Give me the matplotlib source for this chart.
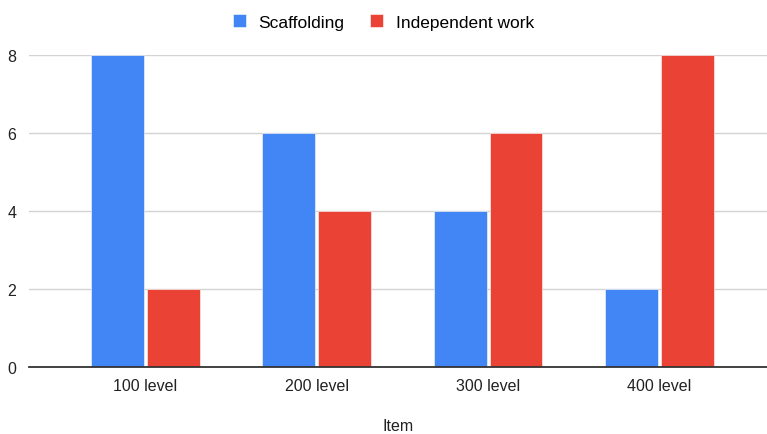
import numpy as np
import matplotlib.pyplot as plt

categories = ["100 level", "200 level", "300 level", "400 level"]
scaffolding = [8, 6, 4, 2]
independent = [2, 4, 6, 8]
yticks = [0, 2, 4, 6, 8]

blue = "#4285F4"
red = "#EA4335"

plt.rcParams['font.family'] = ['Liberation Sans', 'DejaVu Sans']

fig = plt.figure(figsize=(7.67, 4.35), dpi=100)
ax = fig.add_axes([0.0378, 0.154, 0.9622, 0.717])

x = np.arange(len(categories))
width = 0.309
offset = 0.163
ax.bar(x - offset, scaffolding, width, color=blue, label="Scaffolding",
       edgecolor="white", linewidth=0.4, zorder=3)
ax.bar(x + offset, independent, width, color=red, label="Independent work",
       edgecolor="white", linewidth=0.4, zorder=3)

ax.set_xlim(-0.68, 3.628)
ax.set_ylim(0, 8)
ax.set_xticks(x)
ax.set_xticklabels(categories)
ax.set_yticks(yticks)
ax.tick_params(axis="both", length=0, labelsize=11.5, colors="#222222")
ax.tick_params(axis="x", pad=8)
ax.tick_params(axis="y", pad=9)

ax.grid(axis="y", color="#d3d3d3", linewidth=1.0, zorder=0)
for s in ["top", "right", "left"]:
    ax.spines[s].set_visible(False)
ax.spines["bottom"].set_color("#333333")
ax.spines["bottom"].set_linewidth(1.3)
ax.spines["bottom"].set_zorder(4)

ax.set_xlabel("Item", fontsize=11.5, color="#222222", labelpad=18)

fig.legend(loc="center", bbox_to_anchor=(0.5, 0.948), ncol=2, frameon=False,
           fontsize=12.5, handlelength=0.75, handleheight=0.85,
           handletextpad=0.7, columnspacing=1.5)

fig.savefig("out.png", dpi=100)
